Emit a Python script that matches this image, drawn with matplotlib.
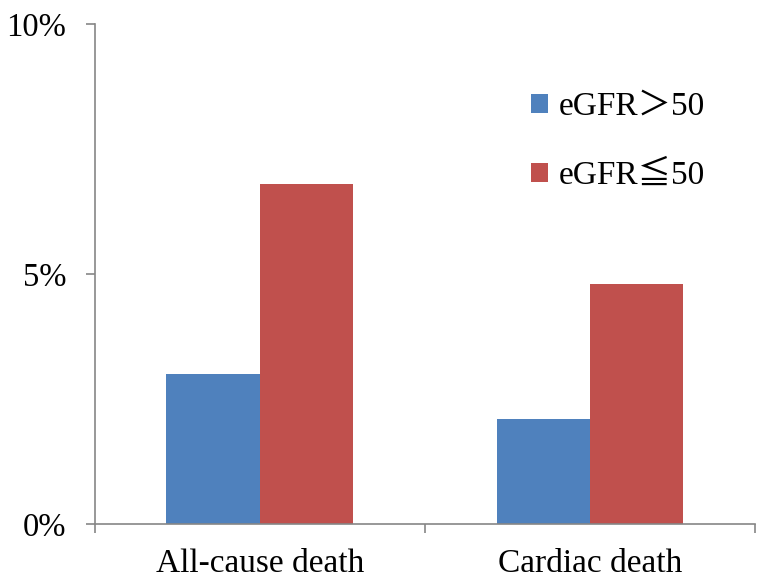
import matplotlib.pyplot as plt
import numpy as np

categories = ["All-cause death", "Cardiac death"]
high_egfr = [3.0, 2.1]
low_egfr = [6.8, 4.8]
series_labels = ["eGFR＞50", "eGFR≦50"]

plt.rcParams['font.family'] = ['Liberation Serif', 'Noto Sans CJK SC', 'DejaVu Sans']

fig = plt.figure(figsize=(7.65, 5.86), dpi=100)
ax = fig.add_axes([0.124, 0.106, 0.863, 0.853])

x = np.arange(len(categories))
w = 0.283
ax.bar(x - w / 2, high_egfr, w, color="#4F81BD", label=series_labels[0])
ax.bar(x + w / 2, low_egfr, w, color="#C0504D", label=series_labels[1])

ax.set_xlim(-0.5, len(categories) - 0.5)
ax.set_ylim(0, 10)
ax.set_yticks([0, 5, 10])
ax.set_yticklabels(["0%", "5%", "10%"])

ax.set_xticks(np.arange(len(categories) + 1) - 0.5)
ax.set_xticklabels([])
ax.set_xticks(x, minor=True)
ax.set_xticklabels(categories, minor=True)

for s in ["top", "right"]:
    ax.spines[s].set_visible(False)
for s in ["left", "bottom"]:
    ax.spines[s].set_color("#868686")
    ax.spines[s].set_linewidth(1.2)

ax.tick_params(axis="y", which="major", length=6.5, width=1.2, color="#868686",
               pad=14, labelsize=23.5)
ax.tick_params(axis="x", which="major", length=6.5, width=1.2, color="#868686")
ax.tick_params(axis="x", which="minor", length=0, pad=18, labelsize=24)

ax.legend(loc="upper left", bbox_to_anchor=(0.615, 0.925), frameon=False,
          fontsize=24, handlelength=0.5, handleheight=0.5, handletextpad=0.35,
          labelspacing=1.15)

fig.savefig("out.png", dpi=100)
